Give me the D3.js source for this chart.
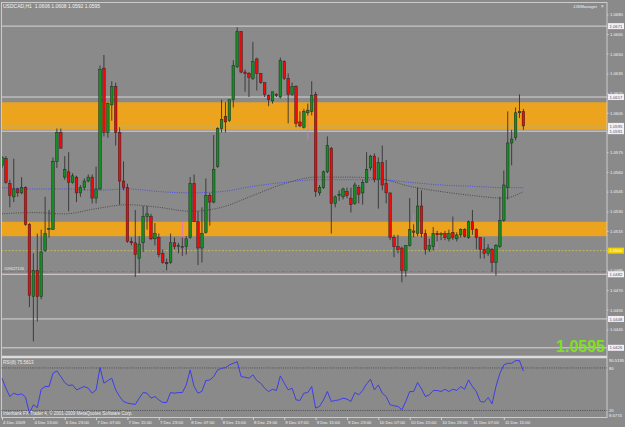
<!DOCTYPE html>
<html>
<head>
<meta charset="utf-8">
<script src="https://cdnjs.cloudflare.com/ajax/libs/d3/7.8.5/d3.min.js"></script>
<style>
body { margin: 0; background: #8a8a8a; }
svg { display: block; font-family: "Liberation Sans", Arial, sans-serif; }
</style>
</head>
<body>
<svg id="chart" width="625" height="427"></svg>
<script>
// USDCAD H1 candles: [open, high, low, close]
var ohlc = [
    [1.0565,1.0572,1.0563,1.0571],[1.0570,1.0572,1.0551,1.0552],[1.0551,1.0554,1.0533,1.0542],[1.0541,1.0570,1.0537,1.0547],
    [1.0547,1.0548,1.0541,1.0544],[1.0544,1.0556,1.0543,1.0548],[1.0548,1.0549,1.0519,1.0520],[1.0520,1.0521,1.0457,1.0466],
    [1.0465,1.0498,1.0431,1.0485],[1.0485,1.0513,1.0446,1.0465],[1.0465,1.0516,1.0463,1.0499],[1.0500,1.0541,1.0499,1.0513],
    [1.0516,1.0531,1.0510,1.0517],[1.0516,1.0571,1.0516,1.0568],[1.0568,1.0593,1.0563,1.0590],[1.0590,1.0593,1.0578,1.0578],
    [1.0556,1.0572,1.0554,1.0562],[1.0560,1.0575,1.0530,1.0552],[1.0552,1.0559,1.0551,1.0557],[1.0556,1.0557,1.0537,1.0544],
    [1.0544,1.0550,1.0541,1.0548],[1.0548,1.0555,1.0546,1.0553],[1.0553,1.0558,1.0552,1.0556],[1.0556,1.0558,1.0536,1.0540],
    [1.0540,1.0564,1.0536,1.0547],[1.0547,1.0641,1.0546,1.0638],[1.0639,1.0649,1.0587,1.0590],[1.0590,1.0613,1.0586,1.0612],
    [1.0611,1.0629,1.0599,1.0625],[1.0625,1.0628,1.0580,1.0590],[1.0590,1.0594,1.0535,1.0553],[1.0553,1.0568,1.0546,1.0548],
    [1.0548,1.0551,1.0506,1.0507],[1.0507,1.0510,1.0504,1.0506],[1.0506,1.0531,1.0480,1.0497],[1.0494,1.0511,1.0483,1.0505],
    [1.0506,1.0534,1.0499,1.0526],[1.0526,1.0534,1.0516,1.0528],[1.0526,1.0528,1.0508,1.0509],[1.0509,1.0521,1.0504,1.0513],
    [1.0510,1.0513,1.0495,1.0497],[1.0498,1.0501,1.0490,1.0491],[1.0491,1.0494,1.0485,1.0490],[1.0491,1.0513,1.0490,1.0506],
    [1.0506,1.0510,1.0501,1.0503],[1.0503,1.0506,1.0498,1.0504],[1.0503,1.0510,1.0496,1.0503],[1.0503,1.0511,1.0497,1.0509],
    [1.0510,1.0556,1.0509,1.0551],[1.0551,1.0558,1.0522,1.0522],[1.0522,1.0530,1.0489,1.0502],[1.0502,1.0533,1.0491,1.0513],
    [1.0514,1.0555,1.0513,1.0542],[1.0542,1.0544,1.0519,1.0537],[1.0537,1.0588,1.0536,1.0562],[1.0564,1.0594,1.0563,1.0593],
    [1.0593,1.0615,1.0590,1.0600],[1.0602,1.0613,1.0590,1.0598],[1.0599,1.0615,1.0598,1.0615],[1.0615,1.0645,1.0609,1.0641],
    [1.0640,1.0670,1.0639,1.0667],[1.0667,1.0667,1.0635,1.0636],[1.0636,1.0638,1.0621,1.0635],[1.0635,1.0636,1.0617,1.0632],
    [1.0631,1.0659,1.0630,1.0644],[1.0646,1.0647,1.0622,1.0635],[1.0635,1.0635,1.0627,1.0628],[1.0628,1.0628,1.0617,1.0619],
    [1.0618,1.0619,1.0610,1.0615],[1.0614,1.0621,1.0612,1.0621],[1.0619,1.0620,1.0617,1.0618],[1.0617,1.0647,1.0616,1.0645],
    [1.0644,1.0645,1.0630,1.0631],[1.0631,1.0635,1.0597,1.0619],[1.0619,1.0628,1.0618,1.0625],[1.0625,1.0626,1.0594,1.0597],
    [1.0598,1.0606,1.0594,1.0595],[1.0594,1.0608,1.0593,1.0606],[1.0605,1.0612,1.0603,1.0607],[1.0606,1.0629,1.0603,1.0618],
    [1.0619,1.0621,1.0541,1.0545],[1.0544,1.0550,1.0542,1.0548],[1.0548,1.0561,1.0547,1.0560],[1.0560,1.0587,1.0559,1.0580],
    [1.0578,1.0579,1.0513,1.0536],[1.0536,1.0542,1.0533,1.0541],[1.0542,1.0546,1.0538,1.0543],[1.0541,1.0548,1.0539,1.0547],
    [1.0545,1.0548,1.0540,1.0542],[1.0540,1.0548,1.0529,1.0535],[1.0536,1.0552,1.0535,1.0550],[1.0548,1.0550,1.0536,1.0543],
    [1.0544,1.0554,1.0535,1.0552],[1.0552,1.0575,1.0552,1.0562],[1.0563,1.0573,1.0561,1.0572],[1.0572,1.0574,1.0552,1.0554],
    [1.0554,1.0571,1.0532,1.0567],[1.0567,1.0580,1.0546,1.0550],[1.0551,1.0569,1.0536,1.0544],[1.0544,1.0544,1.0508,1.0510],
    [1.0510,1.0512,1.0495,1.0503],[1.0503,1.0512,1.0498,1.0501],[1.0502,1.0503,1.0476,1.0485],[1.0485,1.0504,1.0480,1.0504],
    [1.0504,1.0540,1.0503,1.0516],[1.0515,1.0520,1.0510,1.0514],[1.0513,1.0548,1.0511,1.0534],[1.0534,1.0546,1.0510,1.0513],
    [1.0513,1.0516,1.0497,1.0501],[1.0501,1.0509,1.0499,1.0504],[1.0503,1.0518,1.0500,1.0513],[1.0513,1.0515,1.0507,1.0512],
    [1.0512,1.0514,1.0508,1.0513],[1.0513,1.0515,1.0508,1.0510],[1.0509,1.0516,1.0507,1.0513],[1.0514,1.0526,1.0508,1.0510],
    [1.0509,1.0514,1.0507,1.0512],[1.0512,1.0517,1.0510,1.0516],[1.0516,1.0517,1.0510,1.0511],[1.0510,1.0523,1.0509,1.0522],
    [1.0522,1.0531,1.0512,1.0516],[1.0516,1.0517,1.0501,1.0510],[1.0510,1.0510,1.0494,1.0501],[1.0501,1.0510,1.0494,1.0498],
    [1.0498,1.0505,1.0496,1.0502],[1.0501,1.0502,1.0484,1.0491],[1.0491,1.0505,1.0481,1.0504],[1.0503,1.0541,1.0502,1.0523],
    [1.0523,1.0561,1.0522,1.0550],[1.0548,1.0606,1.0539,1.0582],[1.0582,1.0592,1.0565,1.0585],[1.0586,1.0609,1.0584,1.0605],
    [1.0605,1.0619,1.0601,1.0606],[1.0606,1.0608,1.0592,1.0595]
];

// RSI(8), one value per bar
var rsi = [65.5,51.4,39.7,44.4,42.1,43.5,38.8,16.3,28.0,24.0,50.0,53.8,53.8,72.5,75.8,67.8,
    59.4,55.2,56.1,49.1,51.4,53.8,51.4,44.4,49.1,80.5,58.5,62.2,65.5,49.1,39.7,32.7,
    30.4,29.4,28.5,37.4,45.3,44.4,37.4,39.7,35.0,31.3,31.3,45.3,44.4,45.3,45.3,56.1,
    77.2,53.8,44.4,47.0,62.2,63.1,67.8,77.2,79.5,80.5,84.2,86.6,88.9,67.8,66.9,65.5,
    70.2,62.2,58.5,51.4,46.7,50.0,48.2,68.8,58.5,49.1,51.4,35.0,34.1,44.4,45.3,53.8,
    23.3,25.7,35.0,46.7,32.7,34.1,35.0,37.4,36.0,32.7,45.3,42.1,48.2,57.5,64.1,49.1,
    56.1,44.4,39.7,28.0,26.6,25.7,21.0,32.7,46.7,46.7,59.4,50.5,39.7,42.1,48.2,48.2,
    46.7,50.0,46.7,50.0,48.2,53.8,50.0,63.1,53.8,46.7,32.7,31.8,38.3,29.4,53.8,72.5,
    84.2,86.6,86.6,90.3,90.3,75.6];

// moving averages, read every 8 bars
var maBars = [0,8,16,24,32,40,48,56,64,72,80,88,96,104,112,120,128,133];
var maBlue = [1.0548,1.0547,1.0547,1.0546,1.0547,1.0545,1.0544,1.0545,1.0549,1.0552,1.0554,1.0554,1.0554,1.0552,1.0550,1.0549,1.0548,1.0548];
var maGray = [1.0528,1.0529,1.0528,1.0532,1.0535,1.0533,1.0530,1.0533,1.0542,1.0551,1.0556,1.0556,1.0555,1.0549,1.0545,1.0542,1.0540,1.0545];

// orange supply / demand zones [top, bottom]
var zones = [[1.0613, 1.0592], [1.0522, 1.0511]];
// white horizontal levels
var levels = [1.0671, 1.0617, 1.0591, 1.0482, 1.0448, 1.0426];
var bidPrice = 1.0595;
var yellowLevel = 1.0500;
var redLevel = 1.0484;
// magenta marks [bar, top, bottom]
var marks = [[46, 1.0522, 1.0497], [78, 1.0610, 1.0584], [105, 1.0528, 1.0509], [111, 1.0516, 1.0501]];

var priceTicks = [1.0680,1.0665,1.0650,1.0635,1.0620,1.0605,1.0590,1.0575,1.0560,1.0545,1.0530,1.0515,1.0500,1.0485,1.0470,1.0455,1.0440];
var tickBars = [0,8,16,24,32,40,48,56,64,72,80,88,96,104,112,120,128];
var timeLabels = ["4 Dec 2009","4 Dec 13:00","6 Dec 23:00","7 Dec 07:00","7 Dec 15:00","7 Dec 23:00",
    "8 Dec 07:00","8 Dec 15:00","8 Dec 23:00","9 Dec 07:00","9 Dec 15:00","9 Dec 23:00",
    "10 Dec 07:00","10 Dec 15:00","10 Dec 23:00","11 Dec 07:00","11 Dec 15:00"];
var rsiLevels = [80, 20];

var svg = d3.select('#chart');
var plotLeft = 1.5, plotRight = 607, mainTop = 2.5, mainBottom = 355.5;
var frameColor = '#d2d2d2';

svg.append('rect').attr('width', 625).attr('height', 427).attr('fill', '#8a8a8a');

var xScale = d3.scaleLinear().domain([0, 133]).range([2, 523.4]);
var yScale = d3.scaleLinear().domain([1.0680, 1.0420]).range([14.3, 355.7]);
var rsiScale = d3.scaleLinear().domain([8.6774, 90.5195]).range([418.5, 360.5]);

svg.append('defs').append('clipPath').attr('id', 'clipMain')
    .append('rect').attr('x', plotLeft).attr('y', mainTop)
    .attr('width', plotRight - plotLeft).attr('height', mainBottom - mainTop);

var main = svg.append('g').attr('clip-path', 'url(#clipMain)');

// zones
main.append('g').selectAll('rect').data(zones).enter().append('rect')
    .attr('x', plotLeft).attr('width', plotRight - plotLeft)
    .attr('y', d => yScale(d[0]))
    .attr('height', d => yScale(d[1]) - yScale(d[0]))
    .attr('fill', '#eca41f');

// horizontal levels
main.append('g').selectAll('line').data(levels).enter().append('line')
    .attr('x1', plotLeft).attr('x2', plotRight)
    .attr('y1', d => yScale(d)).attr('y2', d => yScale(d))
    .attr('stroke', '#d6d6d6').attr('stroke-width', 1);

main.append('line')
    .attr('x1', plotLeft).attr('x2', plotRight)
    .attr('y1', yScale(bidPrice)).attr('y2', yScale(bidPrice))
    .attr('stroke', '#a9b38a').attr('stroke-width', 0.8);

main.append('line')
    .attr('x1', plotLeft).attr('x2', plotRight)
    .attr('y1', yScale(yellowLevel)).attr('y2', yScale(yellowLevel))
    .attr('stroke', '#d8cc48').attr('stroke-width', 0.7).attr('stroke-dasharray', '2,1.5');

main.append('line')
    .attr('x1', plotLeft).attr('x2', plotRight)
    .attr('y1', yScale(redLevel)).attr('y2', yScale(redLevel))
    .attr('stroke', '#e0405a').attr('stroke-width', 0.8).attr('stroke-dasharray', '4,1.5,1,1.5');

// moving averages
var maLine = d3.line().x((d, i) => xScale(maBars[i])).y(d => yScale(d)).curve(d3.curveMonotoneX);
main.append('path').attr('d', maLine(maGray)).attr('fill', 'none')
    .attr('stroke', '#3a3a3a').attr('stroke-width', 0.8).attr('stroke-dasharray', '1,1.3');
main.append('path').attr('d', maLine(maBlue)).attr('fill', 'none')
    .attr('stroke', '#3d3dff').attr('stroke-width', 0.8).attr('stroke-dasharray', '1,1.3');

// magenta marks
main.append('g').selectAll('line').data(marks).enter().append('line')
    .attr('x1', d => xScale(d[0])).attr('x2', d => xScale(d[0]))
    .attr('y1', d => yScale(d[1])).attr('y2', d => yScale(d[2]))
    .attr('stroke', '#e868e0').attr('stroke-width', 0.8);

// candles
var bw = 2.6;
var candleG = main.append('g');
candleG.selectAll('line').data(ohlc).enter().append('line')
    .attr('x1', (d, i) => xScale(i)).attr('x2', (d, i) => xScale(i))
    .attr('y1', d => yScale(d[1])).attr('y2', d => yScale(d[2]))
    .attr('stroke', '#333').attr('stroke-width', 0.9);
candleG.selectAll('rect').data(ohlc).enter().append('rect')
    .attr('x', (d, i) => xScale(i) - bw / 2).attr('width', bw)
    .attr('y', d => yScale(Math.max(d[0], d[3])))
    .attr('height', d => Math.max(0.9, Math.abs(yScale(d[0]) - yScale(d[3]))))
    .attr('fill', d => d[3] >= d[0] ? '#138f22' : '#f00a0a')
    .attr('stroke', '#262626').attr('stroke-width', 0.5);

// texts in main window
svg.append('text').attr('x', 3).attr('y', 8).attr('fill', '#f4f4f4')
    .style('font-size', '5px').style('white-space', 'pre')
    .text('USDCAD,H1  1.0606 1.0608 1.0592 1.0595');
svg.append('text').attr('x', 573).attr('y', 7.5).attr('fill', '#f0f0f0')
    .style('font-size', '4.3px').text('JJSManager');
svg.append('text').attr('x', 601).attr('y', 7.8).attr('fill', '#f0f0f0')
    .style('font-size', '4.5px').text('\u00d7');
svg.append('text').attr('x', 4).attr('y', yScale(redLevel) - 2).attr('fill', '#eeeeee')
    .style('font-size', '4px').text('#09627126');
svg.append('text').attr('x', 605).attr('y', 351.5).attr('text-anchor', 'end')
    .attr('fill', '#80e020').style('font-size', '16px').style('font-weight', 'bold')
    .text('1.0595');

// frame
svg.append('rect').attr('x', plotLeft).attr('y', mainTop)
    .attr('width', plotRight - plotLeft).attr('height', 417.5 - mainTop)
    .attr('fill', 'none').attr('stroke', frameColor).attr('stroke-width', 0.9);
svg.append('line').attr('x1', plotLeft).attr('x2', plotRight)
    .attr('y1', 357).attr('y2', 357)
    .attr('stroke', '#dcdcdc').attr('stroke-width', 2.4);

// price axis
var priceAxis = d3.axisRight(yScale).tickValues(priceTicks)
    .tickFormat(d3.format('.4f')).tickSize(1.5).tickPadding(1.5);
var pAxis = svg.append('g').attr('transform', `translate(${plotRight}, 0)`).call(priceAxis);
pAxis.select('.domain').remove();
pAxis.selectAll('line').attr('stroke', frameColor);
pAxis.selectAll('text').attr('fill', '#f2f2f2').style('font-size', '4.2px')
    .style('font-family', '"Liberation Sans", Arial, sans-serif');

// boxed labels on the price axis
var boxes = levels.map(v => ({ v: v, fill: '#f0f0f4', color: '#50507a' }));
boxes.push({ v: bidPrice, fill: '#f0f0f4', color: '#50507a' });
boxes.push({ v: yellowLevel, fill: '#f0d000', color: '#ffffff' });
var boxG = svg.append('g').selectAll('g').data(boxes).enter().append('g')
    .attr('transform', d => `translate(608, ${yScale(d.v)})`);
boxG.append('rect').attr('x', 0).attr('y', -3).attr('width', 16).attr('height', 6)
    .attr('fill', d => d.fill);
boxG.append('text').attr('x', 1.5).attr('y', 1.6).attr('fill', d => d.color)
    .style('font-size', '4.2px').text(d => d3.format('.4f')(d.v));

// RSI window
svg.append('text').attr('x', 3).attr('y', 363.8).attr('fill', '#eeeeee')
    .style('font-size', '4.5px').text('RSI(8) 75.5813');
svg.append('g').selectAll('line').data(rsiLevels).enter().append('line')
    .attr('x1', plotLeft).attr('x2', plotRight)
    .attr('y1', d => rsiScale(d)).attr('y2', d => rsiScale(d))
    .attr('stroke', '#333').attr('stroke-width', 0.7).attr('stroke-dasharray', '1,1.2');
var rsiLine = d3.line().x((d, i) => xScale(i)).y(d => rsiScale(d));
svg.append('path').attr('d', rsiLine(rsi)).attr('fill', 'none')
    .attr('stroke', '#3434f4').attr('stroke-width', 0.9);

var rsiLabels = [[90.5195, '90.5195'], [80, '80'], [20, '20'], [8.6774, '8.6774']];
svg.append('g').selectAll('text').data(rsiLabels).enter().append('text')
    .attr('x', 609).attr('y', d => Math.min(rsiScale(d[0]) + 1.6, 417))
    .attr('fill', '#f2f2f2').style('font-size', '4.2px').text(d => d[1]);

svg.append('text').attr('x', 3).attr('y', 415.3).attr('fill', '#eeeeee')
    .style('font-size', '4.5px')
    .text('Interbank FX Trader 4, \u00a9 2001-2009 MetaQuotes Software Corp.');

// time axis
var timeAxis = d3.axisBottom(xScale).tickValues(tickBars)
    .tickFormat((d, i) => timeLabels[i]).tickSize(2.5).tickPadding(1);
var tAxis = svg.append('g').attr('transform', 'translate(0, 417.5)').call(timeAxis);
tAxis.select('.domain').remove();
tAxis.selectAll('line').attr('stroke', frameColor);
tAxis.selectAll('text').attr('fill', '#f2f2f2').attr('text-anchor', 'start')
    .attr('dx', '0.6').style('font-size', '4.3px')
    .style('font-family', '"Liberation Sans", Arial, sans-serif');
</script>
</body>
</html>
